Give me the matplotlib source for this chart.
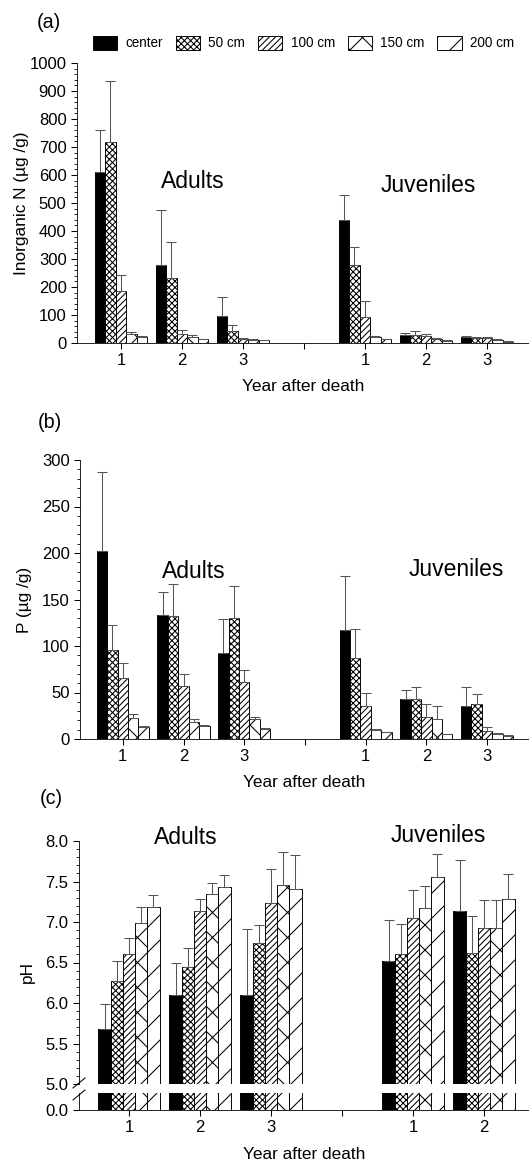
import numpy as np
import matplotlib.pyplot as plt
from matplotlib.lines import Line2D
from matplotlib.ticker import MultipleLocator

plt.rcParams['font.family'] = ['Liberation Sans', 'DejaVu Sans']
plt.rcParams['hatch.linewidth'] = 1.0

DPI = 75
W, H = 529, 1165

distances = ['center', '50 cm', '100 cm', '150 cm', '200 cm']
hatches = ['', 'xxxx', '////', 'x', '/']
fills = ['black', 'white', 'white', 'white', 'white']

# rows = year after death, columns = distance from carcass
# (a) inorganic N (ug/g)
n_adult = [[610, 717, 185, 32, 21], [279, 233, 33, 22, 13], [96, 42, 15, 12, 9]]
n_adult_err = [[150, 218, 59, 9, 4], [197, 127, 12, 8, 3], [68, 22, 3, 2, 2]]
n_juv = [[440, 279, 93, 22, 13], [27, 30, 26, 15, 8], [22, 18, 18, 12, 5]]
n_juv_err = [[90, 63, 57, 3, 2], [9, 12, 6, 3, 1], [3, 2, 3, 2, 1]]

# (b) P (ug/g)
p_adult = [[202, 96, 66, 23, 13], [133, 132, 57, 18, 14], [93, 130, 61, 21, 10.5]]
p_adult_err = [[85, 27, 16, 4, 1.5], [25, 35, 13, 4, 1], [36, 34, 13, 3, 1.5]]
p_juv = [[117, 87, 36, 9.7, 7], [43, 43, 24, 21, 5.4], [35, 38, 9, 5.4, 3.6]]
p_juv_err = [[58, 31, 14, 1, 0.5], [10, 13, 14, 14, 0.5], [21, 10, 3.6, 0.6, 0.4]]

# (c) pH
ph_adult = [[5.68, 6.27, 6.61, 6.99, 7.19], [6.10, 6.45, 7.13, 7.34, 7.43], [6.10, 6.74, 7.24, 7.46, 7.41]]
ph_adult_err = [[0.31, 0.25, 0.19, 0.19, 0.14], [0.40, 0.23, 0.16, 0.14, 0.15], [0.81, 0.22, 0.41, 0.41, 0.42]]
ph_juv = [[6.52, 6.61, 7.05, 7.17, 7.55], [7.14, 6.62, 6.92, 6.92, 7.28]]
ph_juv_err = [[0.50, 0.37, 0.34, 0.28, 0.29], [0.62, 0.45, 0.35, 0.35, 0.31]]

years_ac = ['1', '2', '3', '', '1', '2', '3']
years_c = ['1', '2', '3', '', '1', '2']

BW = 0.172
TICK = 16
LAB = 16.5
GROUP = 22


def px_axes(fig, l, t, r, b):
    return fig.add_axes([l / W, 1 - b / H, (r - l) / W, (b - t) / H])


def style(ax):
    for s in ['top', 'right']:
        ax.spines[s].set_visible(False)
    ax.tick_params(which='major', direction='out', length=6, width=1, labelsize=TICK, pad=4)
    ax.tick_params(which='minor', direction='out', length=3, width=0.8)
    ax.tick_params(axis='x', which='minor', bottom=False)


def draw_groups(ax, slots, vals, errs, errbars=True):
    vals = np.array(vals, dtype=float)
    errs = np.array(errs, dtype=float)
    handles = []
    for i in range(5):
        x = np.array(slots) + (i - 2) * BW
        h = ax.bar(x, vals[:, i], BW, color=fills[i], edgecolor='black', hatch=hatches[i],
                   linewidth=0.9, label=distances[i], zorder=2)
        handles.append(h)
        if errbars:
            ax.errorbar(x, vals[:, i], yerr=[np.zeros(len(x)), errs[:, i]], fmt='none',
                        ecolor='#555555', elinewidth=1, capsize=5, capthick=1, zorder=3)
    return handles


fig = plt.figure(figsize=(W / DPI, H / DPI), dpi=DPI)

# ---- (a)
ax_a = px_axes(fig, 77, 63, 529, 343)
handles = draw_groups(ax_a, [1, 2, 3], n_adult, n_adult_err)
draw_groups(ax_a, [5, 6, 7], n_juv, n_juv_err)
ax_a.set_xlim(0.28, 7.69)
ax_a.set_ylim(0, 1000)
ax_a.yaxis.set_major_locator(MultipleLocator(100))
ax_a.yaxis.set_minor_locator(MultipleLocator(20))
ax_a.set_xticks(range(1, 8))
ax_a.set_xticklabels(years_ac)
style(ax_a)
ax_a.set_xlabel('Year after death', fontsize=LAB, labelpad=10)

# ---- (b)
ax_b = px_axes(fig, 80, 460, 529, 739)
draw_groups(ax_b, [1, 2, 3], p_adult, p_adult_err)
draw_groups(ax_b, [5, 6, 7], p_juv, p_juv_err)
ax_b.set_xlim(0.295, 7.69)
ax_b.set_ylim(0, 300)
ax_b.yaxis.set_major_locator(MultipleLocator(50))
ax_b.yaxis.set_minor_locator(MultipleLocator(10))
ax_b.set_xticks(range(1, 8))
ax_b.set_xticklabels(years_ac)
style(ax_b)
ax_b.set_xlabel('Year after death', fontsize=LAB, labelpad=10)

# ---- (c) broken axis
ax_c = px_axes(fig, 79, 841, 529, 1084)
ax_c0 = px_axes(fig, 79, 1093, 529, 1110)
for ax, eb in [(ax_c, True), (ax_c0, False)]:
    draw_groups(ax, [1, 2, 3], ph_adult, ph_adult_err, errbars=eb)
    draw_groups(ax, [5, 6], ph_juv, ph_juv_err, errbars=eb)
    ax.set_xlim(0.296, 6.634)
    style(ax)
ax_c.set_ylim(5, 8)
ax_c.yaxis.set_major_locator(MultipleLocator(0.5))
ax_c.yaxis.set_minor_locator(MultipleLocator(0.1))
ax_c.yaxis.set_major_formatter('{x:.1f}')
ax_c.spines['bottom'].set_visible(False)
ax_c.tick_params(axis='x', bottom=False, labelbottom=False)
ax_c0.set_ylim(0, 0.5)
ax_c0.set_yticks([0])
ax_c0.set_yticklabels(['0.0'])
ax_c0.set_xticks(range(1, 7))
ax_c0.set_xticklabels(years_c)
ax_c0.set_xlabel('Year after death', fontsize=LAB, labelpad=11)

# break marks on the y axis
for y0 in [1083, 1095]:
    fig.add_artist(Line2D([73 / W, 85 / W], [1 - (y0 + 5) / H, 1 - (y0 - 5) / H],
                          color='black', lw=1))

# legend
fig.legend(handles=handles, loc='center left', bbox_to_anchor=(93 / W, 1 - 43 / H),
           ncol=5, frameon=False, fontsize=13, handlelength=1.8, handleheight=1.25,
           handletextpad=0.6, columnspacing=0.95, borderpad=0, borderaxespad=0)

# y labels
fig.text(22 / W, 1 - 203 / H, 'Inorganic N (µg /g)', rotation=90, ha='center', va='center', fontsize=LAB)
fig.text(25 / W, 1 - 600 / H, 'P (µg /g)', rotation=90, ha='center', va='center', fontsize=LAB)
fig.text(27 / W, 1 - 972 / H, 'pH', rotation=90, ha='center', va='center', fontsize=LAB)

# panel letters
for lab, x, y in [('(a)', 37, 22), ('(b)', 38, 422), ('(c)', 40, 798)]:
    fig.text(x / W, 1 - y / H, lab, ha='left', va='center', fontsize=19)

# group labels
for lab, x, y in [('Adults', 193, 182), ('Juveniles', 428, 185),
                  ('Adults', 194, 571), ('Juveniles', 456, 569),
                  ('Adults', 186, 838), ('Juveniles', 438, 835)]:
    fig.text(x / W, 1 - y / H, lab, ha='center', va='center', fontsize=GROUP)

fig.savefig('out.png', dpi=DPI)
